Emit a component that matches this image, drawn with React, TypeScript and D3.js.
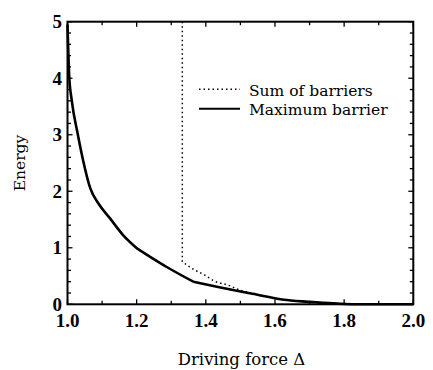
import * as d3 from "d3";

// driving force Δ vs energy
const maxDelta = [1.0, 1.005, 1.012, 1.03, 1.045, 1.066, 1.09, 1.123, 1.16, 1.203, 1.239, 1.287, 1.364, 1.432, 1.528, 1.634, 1.72, 1.78, 1.83, 1.9, 2.0];
const maxEnergy = [4.95, 4.03, 3.62, 3.0, 2.55, 2.05, 1.78, 1.52, 1.23, 0.98, 0.84, 0.66, 0.4, 0.31, 0.195, 0.076, 0.035, 0.012, 0.0, 0.0, 0.0];
// indices where the maximum-barrier curve has a corner
const maxKinks = [9, 12];

const sumDelta = [1.332, 1.332, 1.364, 1.396, 1.429, 1.464, 1.499, 1.528, 1.634, 1.72, 1.78, 1.83, 1.9, 2.0];
const sumEnergy = [5.0, 0.754, 0.62, 0.52, 0.4, 0.34, 0.25, 0.2, 0.076, 0.035, 0.012, 0.0, 0.0, 0.0];

const xTickLabels = [1.0, 1.2, 1.4, 1.6, 1.8, 2.0];
const yTickLabels = [0, 1, 2, 3, 4, 5];

const legendItems = [
  { name: "Sum of barriers", dash: "1.5 3" },
  { name: "Maximum barrier", dash: "" },
];

const W = 433, H = 370;
const m = { left: 67.5, top: 21.7, right: 413.3, bottom: 304.3 };

const css = `
.lbl { font-family: "DejaVu Serif", serif !important; }
.tk { font-family: "Liberation Serif", serif !important; font-weight: bold; }
`;

export default function App() {
  const x = d3.scaleLinear().domain([1, 2]).range([m.left, m.right]);
  const y = d3.scaleLinear().domain([0, 5]).range([m.bottom, m.top]);
  const smooth = d3.line<[number, number]>().x((d) => x(d[0])).y((d) => y(d[1])).curve(d3.curveMonotoneX);
  const straight = d3.line<[number, number]>().x((d) => x(d[0])).y((d) => y(d[1]));
  const maxPts = maxDelta.map((d, i) => [d, maxEnergy[i]] as [number, number]);
  const sumPts = sumDelta.map((d, i) => [d, sumEnergy[i]] as [number, number]);

  // split the solid curve at its corners, smooth within each piece
  const cuts = [0, ...maxKinks, maxPts.length - 1];
  const maxPieces = cuts.slice(1).map((c, i) => maxPts.slice(cuts[i], c + 1));
  const sumPath = straight(sumPts.slice(0, 2)) + (smooth(sumPts.slice(1)) ?? "").replace(/^M/, "L");

  const xMinor = d3.range(1, 2.0001, 0.1);
  const yMinor = d3.range(0, 5.0001, 0.2);
  const isMajorY = (t: number) => Math.abs(t - Math.round(t)) < 1e-6;
  const isMajorX = (t: number) => Math.abs(t * 5 - Math.round(t * 5)) < 1e-6;

  return (
    <div style={{ position: "absolute", left: 0, top: 0, fontFamily: '"DejaVu Serif", serif' }}>
      <style>{css}</style>
      <svg width={W} height={H} style={{ display: "block", background: "#fff" }}>
        {/* ticks inside on all four sides */}
        {xMinor.map((t, i) => {
          const len = isMajorX(t) ? 5 : 3.5;
          return (
            <g key={`xt${i}`} stroke="#000" strokeWidth={1.3}>
              <line x1={x(t)} x2={x(t)} y1={m.bottom} y2={m.bottom - len} />
              <line x1={x(t)} x2={x(t)} y1={m.top} y2={m.top + len} />
            </g>
          );
        })}
        {yMinor.map((t, i) => {
          const len = isMajorY(t) ? 5 : 3.5;
          return (
            <g key={`yt${i}`} stroke="#000" strokeWidth={1.3}>
              <line x1={m.left} x2={m.left + len} y1={y(t)} y2={y(t)} />
              <line x1={m.right} x2={m.right - len} y1={y(t)} y2={y(t)} />
            </g>
          );
        })}
        <rect x={m.left} y={m.top} width={m.right - m.left} height={m.bottom - m.top} fill="none" stroke="#000" strokeWidth={2} />

        <path d={sumPath} fill="none" stroke="#000" strokeWidth={1.5} strokeDasharray="1.5 3" />
        <path d={maxPieces.map((p) => smooth(p) ?? "").join("")} fill="none" stroke="#000" strokeWidth={2.6} strokeLinejoin="round" />

        {xTickLabels.map((t) => (
          <text key={`xl${t}`} className="tk" x={x(t)} y={327} textAnchor="middle" fontSize={19}>
            {t.toFixed(1)}
          </text>
        ))}
        {yTickLabels.map((t) => (
          <text key={`yl${t}`} className="tk" x={62} y={y(t) + 6.5} textAnchor="end" fontSize={19}>
            {t}
          </text>
        ))}

        {legendItems.map((it, i) => (
          <g key={it.name}>
            <line x1={199} x2={240} y1={89.3 + i * 19.4} y2={89.3 + i * 19.4} stroke="#000"
              strokeWidth={it.dash ? 1.5 : 2} strokeDasharray={it.dash || undefined} />
            <text className="lbl" x={249} y={95.5 + i * 19.4} fontSize={15.5}>{it.name}</text>
          </g>
        ))}

        <text className="lbl" x={241.5} y={365} textAnchor="middle" fontSize={16.5}>Driving force Δ</text>
        <text className="lbl" transform="translate(25,163) rotate(-90)" textAnchor="middle" fontSize={15.5}>Energy</text>
      </svg>
    </div>
  );
}
